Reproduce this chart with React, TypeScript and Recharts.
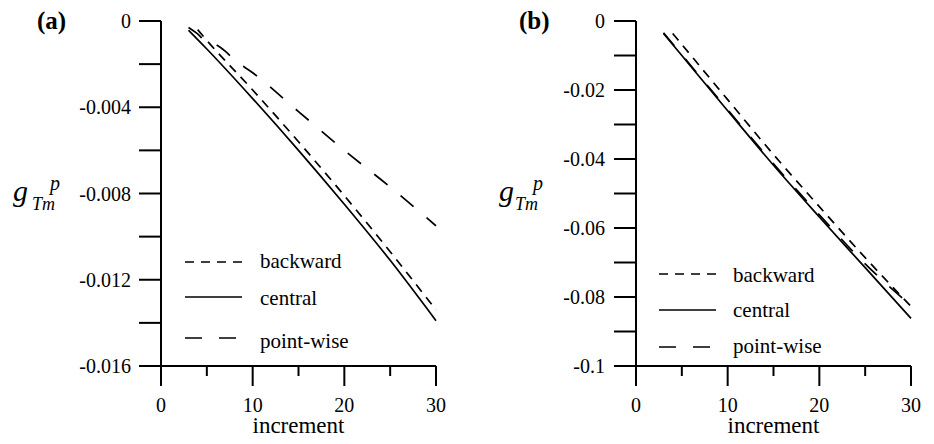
import { LineChart, Line, XAxis, YAxis, Legend } from "recharts"

const FONT = "Liberation Serif"

// panel (a)
const centralIncA = [3, 5, 10, 15, 20, 25, 30]
const centralA = [-0.00043, -0.0013, -0.0036, -0.006, -0.0085, -0.0111, -0.0139]
const backwardIncA = [4, 5, 10, 15, 20, 25, 30]
const backwardA = [-0.0004, -0.0009, -0.0032, -0.0056, -0.0081, -0.0107, -0.0134]
const pointwiseIncA = [3, 4, 5, 6, 7, 8, 10, 15, 20, 25, 30]
const pointwiseA = [-0.0003, -0.0006, -0.001, -0.0011, -0.0014, -0.0018, -0.0024, -0.0042, -0.006, -0.0077, -0.0095]
const yTicksA = [0, -0.002, -0.004, -0.006, -0.008, -0.01, -0.012, -0.014, -0.016]
const yLabelsA = ["0", "", "-0.004", "", "-0.008", "", "-0.012", "", "-0.016"]

// panel (b)
const centralIncB = [3, 5, 10, 15, 20, 25, 30]
const centralB = [-0.0036, -0.01, -0.026, -0.0418, -0.0568, -0.0715, -0.0862]
const backwardIncB = [4, 5, 10, 15, 20, 25, 30]
const backwardB = [-0.0036, -0.0068, -0.0228, -0.0387, -0.0538, -0.0686, -0.0827]
const pointwiseIncB = [3, 5, 10, 15, 20, 25, 30]
const pointwiseB = [-0.0034, -0.0098, -0.0257, -0.0414, -0.0562, -0.0704, -0.0825]
const yTicksB = [0, -0.01, -0.02, -0.03, -0.04, -0.05, -0.06, -0.07, -0.08, -0.09, -0.1]
const yLabelsB = ["0", "", "-0.02", "", "-0.04", "", "-0.06", "", "-0.08", "", "-0.1"]

const xTicks = [0, 5, 10, 15, 20, 25, 30]
const seriesNames = ["backward", "central", "point-wise"]
const dashes = ["9 7", undefined, "17 17"]

const toPoints = (xs: number[], ys: number[]) => xs.map((x, i) => ({ x, y: ys[i] }))

const XTick = ({ x, y, payload }: any) => {
  const major = payload.value % 10 === 0
  return (
    <g>
      <line x1={x} x2={x} y1={y} y2={y + (major ? 20 : 10)} stroke="#000" strokeWidth={2} />
      {major && (
        <text x={x} y={y + 46} textAnchor="middle" fontSize={20} fontFamily={FONT} fill="#000">
          {payload.value}
        </text>
      )}
    </g>
  )
}

const XTitle = ({ viewBox }: any) => (
  <text x={viewBox.x + viewBox.width / 2} y={433} textAnchor="middle" fontSize={23} fontFamily={FONT} fill="#000">
    increment
  </text>
)

const YTitle = ({ tag, tagX, gx, tmx, px }: any) => (
  <g fontFamily={FONT} fill="#000">
    <text x={tagX} y={29} fontSize={25} fontWeight="bold" fontFamily={FONT}>{tag}</text>
    <text x={gx} y={201} fontSize={30} fontStyle="italic" fontFamily={FONT}>g</text>
    <text x={tmx} y={210} fontSize={18} fontStyle="italic" fontFamily={FONT}>Tm</text>
    <text x={px} y={190} fontSize={20} fontStyle="italic" fontFamily={FONT}>p</text>
  </g>
)

const LegendBox = ({ rows, lineX, textX }: any) => (
  <svg width={200} height={115} style={{ display: "block", overflow: "visible" }}>
    {seriesNames.map((name, i) => (
      <g key={name}>
        <line x1={lineX[0]} x2={lineX[1]} y1={rows[i][0]} y2={rows[i][0]} stroke="#000" strokeWidth={1.7} strokeDasharray={dashes[i]} />
        <text x={textX} y={rows[i][1]} fontSize={21} fontFamily={FONT} fill="#000">{name}</text>
      </g>
    ))}
  </svg>
)

function Panel({ left, margin, domain, yTicks, yLabels, tickMargin, data, title, legend }: any) {
  return (
    <div style={{ position: "absolute", left, top: 0 }}>
      <LineChart width={467} height={444} margin={margin}>
        <XAxis
          type="number"
          dataKey="x"
          domain={[0, 30]}
          ticks={xTicks}
          interval={0}
          tickSize={0}
          tickMargin={0}
          tickLine={false}
          height={70}
          axisLine={{ stroke: "#000", strokeWidth: 2 }}
          tick={(p: any) => <XTick {...p} />}
          label={<XTitle />}
        />
        <YAxis
          type="number"
          domain={domain}
          ticks={yTicks}
          interval={0}
          allowDataOverflow
          width={60}
          tickSize={22}
          tickMargin={tickMargin}
          stroke="#000"
          axisLine={{ stroke: "#000", strokeWidth: 2 }}
          tickLine={{ stroke: "#000", strokeWidth: 2 }}
          tick={{ fill: "#000", fontSize: 20, fontFamily: FONT }}
          tickFormatter={(v: number) => yLabels[yTicks.findIndex((t: number) => Math.abs(t - v) < 1e-9)] ?? ""}
          label={<YTitle {...title} />}
        />
        <Legend
          layout="horizontal"
          verticalAlign="middle"
          align="center"
          wrapperStyle={{ left: legend.left, top: legend.top, width: 200, height: 115 }}
          content={() => <LegendBox {...legend} />}
        />
        {data.map((d: any, i: number) => (
          <Line
            key={seriesNames[i]}
            name={seriesNames[i]}
            data={d}
            dataKey="y"
            type="monotone"
            stroke="#000"
            strokeWidth={1.7}
            strokeDasharray={dashes[i]}
            dot={false}
            activeDot={false}
            isAnimationActive={false}
          />
        ))}
      </LineChart>
    </div>
  )
}

export default function App() {
  return (
    <div style={{ position: "absolute", left: 0, top: 0, width: 934, height: 444, background: "#fff" }}>
      <Panel
        left={0}
        margin={{ top: 21, right: 31, bottom: 8, left: 101 }}
        domain={[-0.016, 0]}
        yTicks={yTicksA}
        yLabels={yLabelsA}
        tickMargin={8}
        data={[toPoints(backwardIncA, backwardA), toPoints(centralIncA, centralA), toPoints(pointwiseIncA, pointwiseA)]}
        title={{ tag: "(a)", tagX: 37, gx: 13, tmx: 32, px: 50 }}
        legend={{ left: 180, top: 245, lineX: [5, 62], textX: 80, rows: [[17, 23], [52, 60], [93, 103]] }}
      />
      <Panel
        left={467}
        margin={{ top: 21, right: 23, bottom: 8, left: 109 }}
        domain={[-0.1, 0]}
        yTicks={yTicksB}
        yLabels={yLabelsB}
        tickMargin={9}
        data={[toPoints(backwardIncB, backwardB), toPoints(centralIncB, centralB), toPoints(pointwiseIncB, pointwiseB)]}
        title={{ tag: "(b)", tagX: 52, gx: 32, tmx: 48, px: 66 }}
        legend={{ left: 189, top: 255, lineX: [3, 60], textX: 77, rows: [[19, 27], [55, 62], [92, 98]] }}
      />
    </div>
  )
}
